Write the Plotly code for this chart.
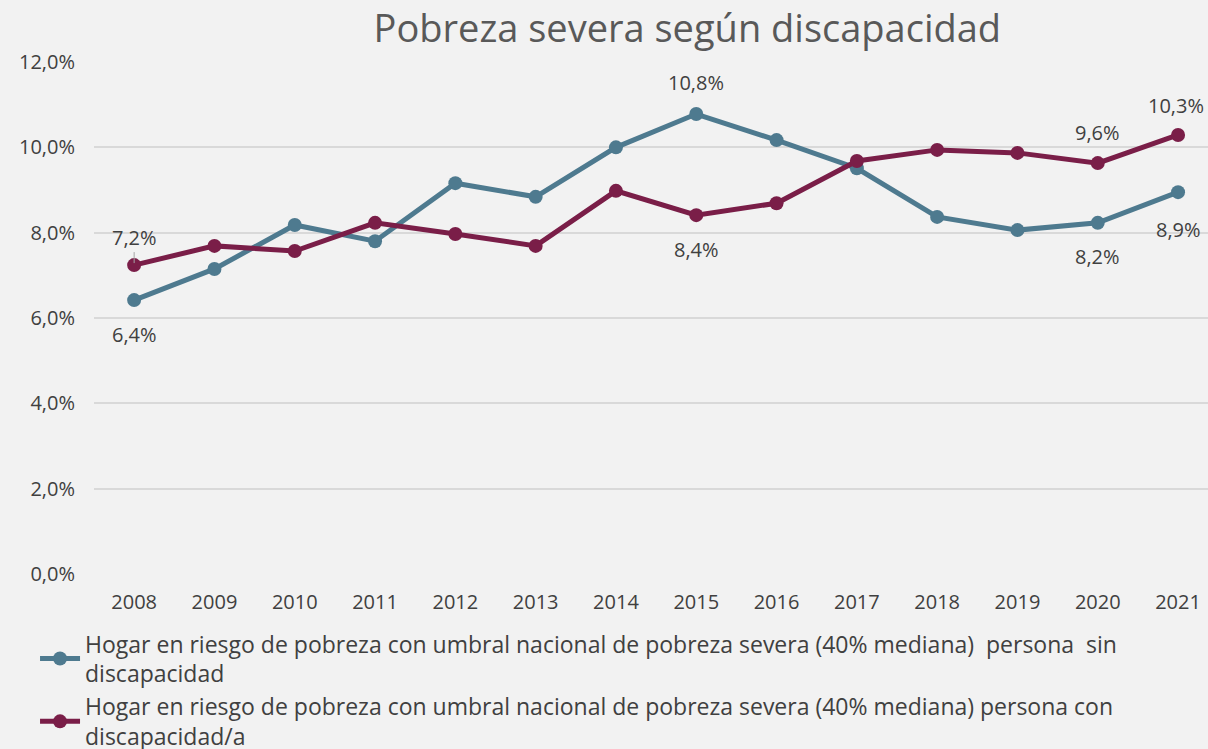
import plotly.graph_objects as go

years = list(range(2008, 2022))
sin_disc = [6.42, 7.15, 8.18, 7.80, 9.16, 8.84, 10.00, 10.78, 10.17, 9.51, 8.37, 8.06, 8.23, 8.95]
con_disc = [7.24, 7.69, 7.57, 8.23, 7.97, 7.69, 8.98, 8.41, 8.69, 9.68, 9.94, 9.87, 9.63, 10.29]
y_ticks = [0, 2, 4, 6, 8, 10, 12]
y_ticktext = ["0,0%", "2,0%", "4,0%", "6,0%", "8,0%", "10,0%", "12,0%"]

name_sin = "Hogar en riesgo de pobreza con umbral nacional de pobreza severa (40% mediana)  persona  sin<br>discapacidad"
name_con = "Hogar en riesgo de pobreza con umbral nacional de pobreza severa (40% mediana) persona con<br>discapacidad/a"

# labelled points: year -> (vertical shift, horizontal shift)
labels_sin = {2008: (-34, 0), 2015: (32, 0), 2020: (-34, 0), 2021: (-37, 0)}
labels_con = {2015: (-34, 0), 2020: (31, 0), 2021: (29, -2)}

BLUE = "#4E7A8F"
RED = "#7A1E48"
TXT = "#404040"
FONT = "Open Sans"

fig = go.Figure()
fig.add_trace(go.Scatter(x=years, y=sin_disc, mode="lines+markers", name=name_sin,
                         line=dict(color=BLUE, width=5), marker=dict(size=14, color=BLUE)))
fig.add_trace(go.Scatter(x=years, y=con_disc, mode="lines+markers", name=name_con,
                         line=dict(color=RED, width=5), marker=dict(size=14, color=RED)))

def fmt(v):
    return f"{v:.1f}%".replace(".", ",")

for series, labs in ((sin_disc, labels_sin), (con_disc, labels_con)):
    for yr, (sh, xs) in labs.items():
        v = series[years.index(yr)]
        fig.add_annotation(x=yr, y=v, text=fmt(v), showarrow=False, yshift=sh, xshift=xs,
                           font=dict(family=FONT, size=20, color=TXT))

# 2008 label of second series with leader line
v0 = con_disc[0]
fig.add_annotation(x=2008, y=v0, text=fmt(v0), showarrow=True, arrowhead=0, arrowwidth=1,
                   arrowcolor="#A6A6A6", ax=0, ay=-28, standoff=2,
                   font=dict(family=FONT, size=20, color=TXT))

fig.update_layout(
    width=1208, height=749,
    paper_bgcolor="#F2F2F2", plot_bgcolor="#F2F2F2",
    margin=dict(l=94, r=0, t=62, b=175, autoexpand=False),
    title=dict(text="Pobreza severa según discapacidad", x=0.569, xanchor="center",
               y=0.962, yanchor="middle", xref="container", yref="container",
               font=dict(family=FONT, size=38, color="#595959")),
    font=dict(family=FONT, size=19, color=TXT),
    showlegend=True,
    legend=dict(orientation="v", x=0.029, xanchor="left", y=-0.094, yanchor="top",
                xref="container", yref="paper", itemwidth=40,
                font=dict(family=FONT, size=23, color=TXT), bgcolor="rgba(0,0,0,0)",
                tracegroupgap=0),
    xaxis=dict(range=[2007.5, 2021.373], tickmode="array", tickvals=years,
               ticktext=[str(y) for y in years], showgrid=False, zeroline=False,
               showline=False, ticks="", ticklabelstandoff=14,
               tickfont=dict(size=20, color=TXT)),
    yaxis=dict(range=[0, 12], tickmode="array", tickvals=y_ticks, ticktext=y_ticktext,
               showgrid=True, gridcolor="#D9D9D9", gridwidth=2, zeroline=False,
               showline=False, ticks="", ticklabelstandoff=18,
               tickfont=dict(size=20, color=TXT)),
)

fig.write_html("out.html", config={"displayModeBar": False},
               post_script="document.body.style.margin='0';document.body.style.background='#F2F2F2';")
